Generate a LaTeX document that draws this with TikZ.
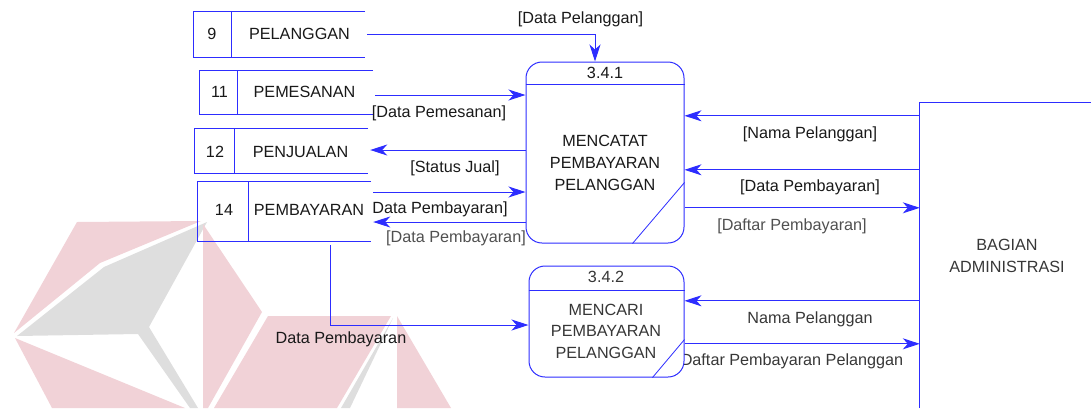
\documentclass[tikz,border=0pt]{standalone}
\usepackage{fontspec}
\setmainfont{Liberation Sans}
\usetikzlibrary{arrows.meta,calc}
\definecolor{lineblue}{RGB}{45,45,255}
\definecolor{txt}{RGB}{25,25,25}
\definecolor{txtmid}{RGB}{55,55,55}
\definecolor{txtgray}{RGB}{80,80,80}
\definecolor{wmpink}{RGB}{241,210,215}
\definecolor{wmgray}{RGB}{222,222,222}

\begin{document}
\begin{tikzpicture}[x=1pt,y=-1pt,
  font=\fontsize{16.2}{22}\selectfont,
  every node/.style={text=txt},
  wire/.style={draw=lineblue,line width=1pt},
  flow/.style={wire,-{Stealth[length=17pt,width=11pt,inset=5pt]}},
  storebox/.style={draw=none,inner sep=0pt},
  procbox/.style={draw=lineblue,line width=1pt,rounded corners=16pt,fill=white,inner sep=0pt},
  lbl/.style={inner sep=0pt,text height=11.6pt,text depth=0pt},
  ptext/.style={inner sep=0pt,align=center}
]
\useasboundingbox (0,0) rectangle (1091,408);

% faint logo in the background
\begin{scope}[draw=none]
  \fill[wmpink] (77,222) -- (201,221) -- (100,263) -- (14,333) -- cycle;
  \fill[wmgray] (207,222) -- (104,267) -- (17,336) -- (138,334) -- (190,408) -- (198,408) -- (149,327) -- cycle;
  \fill[wmpink] (203,224) -- (262,312) -- (208,408) -- (203,408) -- cycle;
  \fill[wmpink] (15,338) -- (185,408) -- (52,408) -- cycle;
  \fill[wmpink] (268,316) -- (391,316) -- (337,408) -- (214,408) -- cycle;
  \fill[wmgray] (393,318) -- (341,408) -- (350,408) -- cycle;
  \fill[wmpink] (397,316) -- (451,408) -- (397,408) -- cycle;
\end{scope}

% data stores (open on the right)
\node[storebox,minimum width=171pt,minimum height=45pt] (s9) at (279.5,34.5) {};
\node[storebox,minimum width=173pt,minimum height=43pt] (s11) at (286.5,92.5) {};
\node[storebox,minimum width=173pt,minimum height=44pt] (s12) at (281.5,151) {};
\node[storebox,minimum width=173pt,minimum height=59pt] (s14) at (284.5,211.5) {};
\foreach \s/\d in {s9/38,s11/38,s12/40,s14/51} {
  \draw[wire] (\s.north east) -- (\s.north west) -- (\s.south west) -- (\s.south east);
  \draw[wire] ($(\s.north west)+(\d,0)$) -- ($(\s.south west)+(\d,0)$);
}
\node[lbl] (s9n) at (212,34) {9};
\node[lbl] (s9t) at (299.5,34) {PELANGGAN};
\node[lbl] (s11n) at (219.5,92) {11};
\node[lbl] (s11t) at (304.5,92) {PEMESANAN};
\node[lbl] (s12n) at (215,152) {12};
\node[lbl] (s12t) at (300.5,152) {PENJUALAN};
\node[lbl] (s14n) at (224,210) {14};
\node[lbl] (s14t) at (309,210) {PEMBAYARAN};

% flow labels
\node[lbl] (l1) at (580.5,18) {[Data Pelanggan]};
\node[lbl] (l2) at (439,112) {[Data Pemesanan]};
\node[lbl] (l3) at (455,167) {[Status Jual]};
\node[lbl] (l4) at (440,208) {Data Pembayaran]};
\node[lbl,text=txtgray] (l5) at (456,237) {[Data Pembayaran]};
\node[lbl] (l6) at (810,133) {[Nama Pelanggan]};
\node[lbl] (l7) at (810,186) {[Data Pembayaran]};
\node[lbl,text=txtgray] (l8) at (792,225) {[Daftar Pembayaran]};
\node[lbl,text=txtmid] (l9) at (810,318) {Nama Pelanggan};
\node[lbl,text=txtmid] (l10) at (792,360) {Daftar Pembayaran Pelanggan};
\node[lbl] (l11) at (341,338) {Data Pembayaran};

% processes
\node[procbox,minimum width=158pt,minimum height=181pt] (p1) at (605,152.5) {};
\draw[wire] ($(p1.north west)+(0,23)$) -- ($(p1.north east)+(0,23)$);
\draw[draw=lineblue,line width=0.8pt] ($(p1.south east)+(-52,0)$) -- ($(p1.south east)+(0,-61)$);
\node[lbl] (p1n) at (605,73) {3.4.1};
\node[ptext] (p1t) at (605,163) {MENCATAT\\PEMBAYARAN\\PELANGGAN};

\node[procbox,minimum width=155pt,minimum height=111pt] (p2) at (606.5,321.5) {};
\draw[wire] ($(p2.north west)+(0,25)$) -- ($(p2.north east)+(0,25)$);
\draw[draw=lineblue,line width=0.8pt] ($(p2.south east)+(-32,0)$) -- ($(p2.south east)+(0,-38)$);
\node[lbl,text=txtmid] (p2n) at (606,277) {3.4.2};
\node[ptext,text=txtmid,font=\fontsize{16.2}{21.5}\selectfont] (p2t) at (606,331) {MENCARI\\PEMBAYARAN\\PELANGGAN};

% external entity (runs off the page to the right and bottom)
\node[inner sep=0pt,minimum width=174pt,minimum height=305pt,align=center,text=txtmid] (ext) at (1007,255.5) {BAGIAN\\ADMINISTRASI};
\draw[wire] (ext.south west) -- (ext.north west) -- (ext.north east);

% flows
\draw[flow] ($(s9.east)+(2,0)$) -| ($(p1.north)+(-10,0)$);
\draw[flow] ($(s11.east)+(2,2.5)$) coordinate (a11) -- (a11 -| p1.west);
\draw[flow] ($(s12.east)+(0,-1)$) coordinate (a12) ($(a12 -| p1.west)$) -- ($(a12)+(2,0)$);
\draw[flow] ($(s14.east)+(2,-19.5)$) coordinate (a14) -- (a14 -| p1.west);
\draw[flow] ($(s14.east)+(2,10.5)$) coordinate (b14) ($(b14 -| p1.west)$) -- (b14);
\draw[flow] ($(ext.north west)+(0,13)$) coordinate (e1) -- (e1 -| p1.east);
\draw[flow] ($(ext.north west)+(0,67)$) coordinate (e2) -- (e2 -| p1.east);
\draw[flow] ($(ext.north west)+(0,105)$) coordinate (e3) ($(e3 -| p1.east)$) -- (e3);
\draw[flow] ($(ext.north west)+(0,198)$) coordinate (e4) -- (e4 -| p2.east);
\draw[flow] ($(ext.north west)+(0,241)$) coordinate (e5) ($(e5 -| p2.east)$) -- (e5);
\draw[flow] ($(s14.south)+(45.5,4)$) |- ($(p2.west)+(0,3.5)$);
\end{tikzpicture}
\end{document}
